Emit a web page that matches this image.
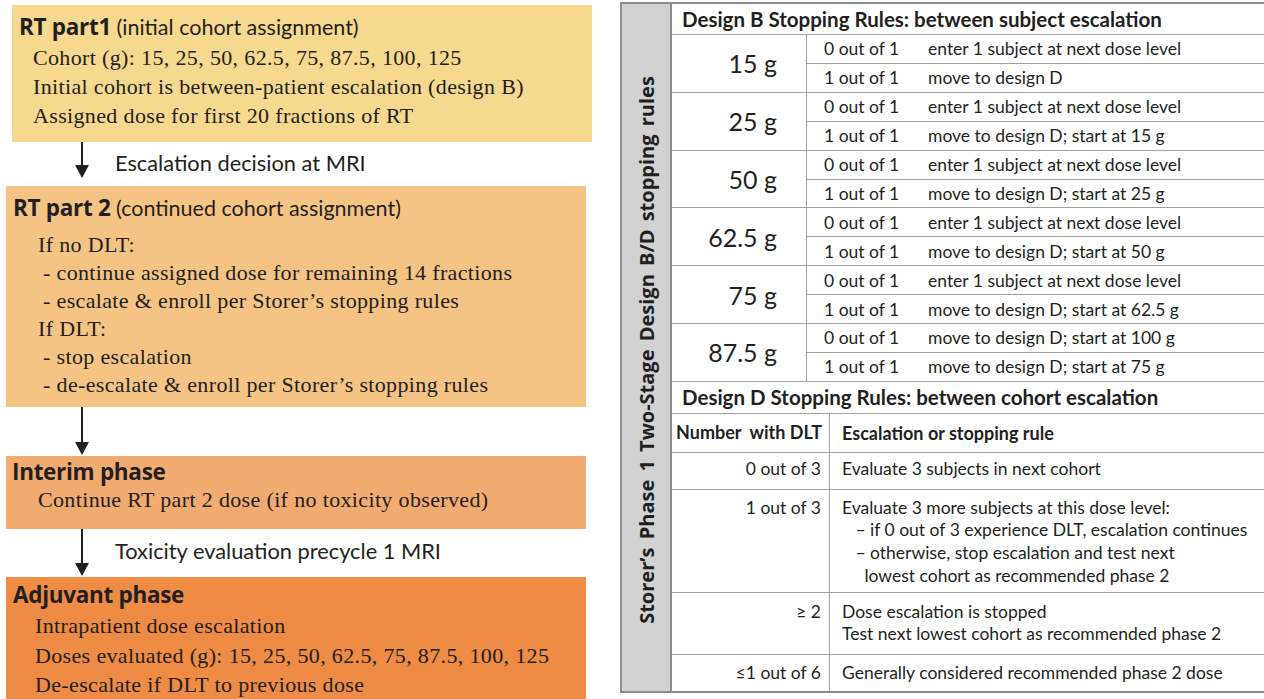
<!DOCTYPE html>
<html>
<head>
<meta charset="utf-8">
<script src="https://cdn.jsdelivr.net/npm/chart.js@4/dist/chart.umd.min.js"></script>
<style>
  body { margin: 0; width: 1264px; height: 699px; background: #fff; position: relative; overflow: hidden; color: #231f20; }
  .box { position: absolute; width: 580px; box-sizing: border-box; }
  .head { font-family: "Open Sans", sans-serif; font-weight: bold; font-size: 22.5px; position: absolute; white-space: nowrap; line-height: 30px; letter-spacing: -0.3px; }
  .head span { font-family: Lato, sans-serif; font-weight: normal; font-size: 21.5px; letter-spacing: 0; }
  .line { font-family: "Liberation Serif", serif; font-size: 22px; letter-spacing: 0.35px; position: absolute; white-space: nowrap; line-height: 26px; }
  .arrow { position: absolute; left: 81px; width: 2px; background: #231f20; }
  .arrow:after { content: ""; position: absolute; left: -6px; bottom: -12px; border-left: 7px solid transparent; border-right: 7px solid transparent; border-top: 13px solid #231f20; }
  .note { position: absolute; left: 115px; font-family: Lato, sans-serif; font-size: 21.8px; line-height: 26px; white-space: nowrap; }
  #panel { position: absolute; left: 620px; top: 2px; width: 644px; height: 691px; box-sizing: border-box; border: 2px solid #8c8c8c; border-right: none; }
  #strip { position: absolute; left: 0; top: 0; width: 50px; height: 100%; box-sizing: border-box; background: #d2d2d2; border-right: 2px solid #8c8c8c; }
  #strip div { position: absolute; left: 50%; top: 346px; transform: translate(-50%, -50%) rotate(-90deg); font-family: "Open Sans", sans-serif; font-weight: bold; font-size: 20px; white-space: nowrap; word-spacing: 3px; }
  #tbl { position: absolute; left: 50px; top: 0; right: 0; font-family: Lato, sans-serif; font-size: 17.5px; }
  .row { position: relative; border-bottom: 1.5px solid #a0a0a0; box-sizing: border-box; }
  .title { font-weight: bold; font-size: 20.5px; padding-left: 10px; display: flex; align-items: center; }
  .dose { position: absolute; left: 0; top: 0; bottom: 0; width: 135px; box-sizing: border-box; border-right: 1.5px solid #a0a0a0; font-size: 25px; padding-right: 29px; display: flex; align-items: center; justify-content: flex-end; }
  .subs { position: absolute; left: 135px; right: 0; top: 0; bottom: 0; display: flex; flex-direction: column; }
  .sub { flex: 1; display: flex; align-items: center; box-sizing: border-box; }
  .sub + .sub { border-top: 1.5px solid #a0a0a0; }
  .cnt { width: 121px; padding-left: 17px; box-sizing: border-box; }
  .dcol { position: absolute; left: 0; top: 0; bottom: 0; width: 158px; border-right: 1.5px solid #a0a0a0; box-sizing: border-box; text-align: right; padding-right: 8px; line-height: 22.7px; }
  .drule { margin-left: 158px; padding-left: 12px; line-height: 22.7px; }
</style>
</head>
<body>
<div id="left"></div>
<div id="panel"><div id="strip"><div>Storer’s  Phase 1 Two-Stage Design B/D stopping rules</div></div><div id="tbl"></div></div>
<script>
// cohort doses (g)
const cohortDoses = [15, 25, 50, 62.5, 75, 87.5, 100, 125];

// Design B: dose levels and what happens at 0/1 and 1/1 DLT
const designBDoses = ['15 g', '25 g', '50 g', '62.5 g', '75 g', '87.5 g'];
const designBIfNone = ['enter 1 subject at next dose level', 'enter 1 subject at next dose level', 'enter 1 subject at next dose level',
  'enter 1 subject at next dose level', 'enter 1 subject at next dose level', 'move to design D; start at 100 g'];
const designBIfOne = ['move to design D', 'move to design D; start at 15 g', 'move to design D; start at 25 g',
  'move to design D; start at 50 g', 'move to design D; start at 62.5 g', 'move to design D; start at 75 g'];

// Design D: number with DLT -> rule
const designDCounts = ['0 out of 3', '1 out of 3', '≥ 2', '≤1 out of 6'];
const designDRules = [
  ['Evaluate 3 subjects in next cohort'],
  ['Evaluate 3 more subjects at this dose level:', '&nbsp;&nbsp;&nbsp;– if 0 out of 3 experience DLT, escalation continues',
   '&nbsp;&nbsp;&nbsp;– otherwise, stop escalation and test next', '&nbsp;&nbsp;&nbsp;&nbsp;&nbsp;lowest cohort as recommended phase 2'],
  ['Dose escalation is stopped', 'Test next lowest cohort as recommended phase 2'],
  ['Generally considered recommended phase 2 dose']
];

// left flow: box extents and text line centres are layout only
const stages = [
  { left: 12, top: 5, height: 137, color: '#f6d88f', headX: 7, headY: 27, head: 'RT part1 <span>(initial cohort assignment)</span>',
    lines: [[21, 'Cohort (g): ' + cohortDoses.join(', ')], [21, 'Initial cohort is between-patient escalation (design B)'],
            [21, 'Assigned dose for first 20 fractions of RT']], y: [58, 87, 116] },
  { left: 6, top: 186, height: 221, color: '#f5c484', headX: 7, headY: 208, head: 'RT part 2 <span>(continued cohort assignment)</span>',
    lines: [[32, 'If no DLT:'], [37, '- continue assigned dose for remaining 14 fractions'], [37, '- escalate &amp; enroll per Storer’s stopping rules'],
            [32, 'If DLT:'], [37, '- stop escalation'], [37, '- de-escalate &amp; enroll per Storer’s stopping rules']],
    y: [245, 273, 301, 329, 357, 385] },
  { left: 6, top: 456, height: 73, color: '#f1ab71', headX: 6, headY: 472, head: 'Interim phase',
    lines: [[32, 'Continue RT part 2 dose (if no toxicity observed)']], y: [500] },
  { left: 6, top: 577, height: 122, color: '#ee8b45', headX: 7, headY: 595, head: 'Adjuvant phase',
    lines: [[29, 'Intrapatient dose escalation'], [29, 'Doses evaluated (g): ' + cohortDoses.join(', ')],
            [29, 'De-escalate if DLT to previous dose']], y: [626, 656, 685] }
];
const arrows = [{ top: 142, height: 24, noteY: 163, note: 'Escalation decision at MRI' }, { top: 407, height: 36, note: '' },
  { top: 529, height: 35, noteY: 551, note: 'Toxicity evaluation precycle 1 MRI' }];

const left = document.getElementById('left');
let html = '';
stages.forEach(s => {
  html += `<div class="box" style="left:${s.left}px;top:${s.top}px;height:${s.height}px;background:${s.color}">`;
  html += `<div class="head" style="top:${s.headY - s.top - 15}px;left:${s.headX}px">${s.head}</div>`;
  s.lines.forEach((l, i) => { html += `<div class="line" style="left:${l[0]}px;top:${s.y[i] - s.top - 13}px">${l[1]}</div>`; });
  html += '</div>';
});
arrows.forEach(a => {
  html += `<div class="arrow" style="top:${a.top}px;height:${a.height}px"></div>`;
  if (a.note) html += `<div class="note" style="top:${a.noteY - 13}px">${a.note}</div>`;
});
left.innerHTML = html;

const rowH = 57.8;
let t = '<div class="row title" style="height:31px">Design B Stopping Rules: between subject escalation</div>';
designBDoses.forEach((d, i) => {
  t += `<div class="row" style="height:${rowH}px"><div class="dose">${d}</div><div class="subs">`;
  t += `<div class="sub"><div class="cnt">0 out of 1</div><div>${designBIfNone[i]}</div></div>`;
  t += `<div class="sub"><div class="cnt">1 out of 1</div><div>${designBIfOne[i]}</div></div></div></div>`;
});
t += '<div class="row title" style="height:32px">Design D Stopping Rules: between cohort escalation</div>';
t += '<div class="row" style="height:39px;font-weight:bold;font-size:18px"><div class="dcol" style="display:flex;align-items:center;justify-content:flex-end;padding-right:7px">Number&nbsp; with DLT</div><div class="drule" style="line-height:38px">Escalation or stopping rule</div></div>';
const dHeights = [37, 103, 62, 36];
const dPad = [5, 7, 8, 7];
designDCounts.forEach((c, i) => {
  t += `<div class="row" style="height:${dHeights[i]}px;${i === designDCounts.length - 1 ? 'border-bottom:none' : ''}"><div class="dcol" style="padding-top:${dPad[i]}px">${c}</div>`;
  t += `<div class="drule" style="padding-top:${dPad[i]}px">${designDRules[i].join('<br>')}</div></div>`;
});
document.getElementById('tbl').innerHTML = t;
</script>
</body>
</html>
